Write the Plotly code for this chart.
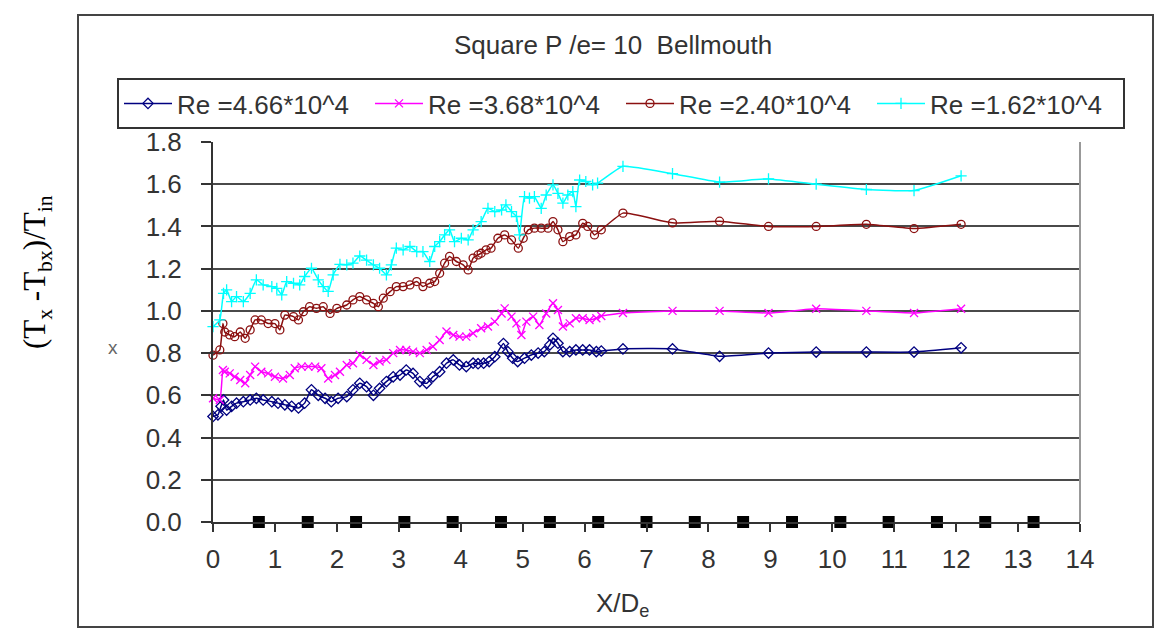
import plotly.graph_objects as go

# ---------------- data ----------------
blue_x = [0.0, 0.08, 0.13, 0.17, 0.22, 0.30, 0.38, 0.49, 0.60, 0.70, 0.81, 0.95, 1.05, 1.16, 1.27, 1.38, 1.48, 1.59, 1.70, 1.81, 1.91, 2.02,
          2.16, 2.26, 2.37, 2.48, 2.59, 2.69, 2.80, 2.91, 3.02, 3.12, 3.23, 3.34, 3.45, 3.55, 3.66, 3.77, 3.88, 3.98, 4.09, 4.20, 4.28,
          4.37, 4.46, 4.55, 4.69, 4.76, 4.84, 4.92, 5.03, 5.14, 5.25, 5.35, 5.44, 5.49, 5.57, 5.65, 5.76, 5.86, 5.97, 6.08, 6.19, 6.27,
          6.62, 7.42, 8.18, 8.97, 9.74, 10.55, 11.32, 12.08]
blue_y = [0.50, 0.508, 0.548, 0.578, 0.53, 0.548, 0.563, 0.57, 0.578, 0.586, 0.578, 0.57, 0.563, 0.555, 0.548, 0.54, 0.563, 0.626, 0.60, 0.586, 0.57, 0.586,
          0.594, 0.626, 0.657, 0.641, 0.60, 0.633, 0.665, 0.688, 0.696, 0.72, 0.704, 0.665, 0.657, 0.688, 0.712, 0.752, 0.768, 0.744, 0.736, 0.752, 0.75,
          0.752, 0.76, 0.783, 0.845, 0.807, 0.776, 0.76, 0.776, 0.791, 0.80, 0.807, 0.839, 0.87, 0.847, 0.807, 0.807, 0.815, 0.815, 0.815, 0.807, 0.81,
          0.82, 0.82, 0.785, 0.80, 0.805, 0.805, 0.805, 0.825]

mag_x = [0.0, 0.11, 0.16, 0.19, 0.27, 0.35, 0.44, 0.52, 0.60, 0.68, 0.78, 0.89, 1.0, 1.13, 1.24, 1.32, 1.43, 1.54, 1.65, 1.75, 1.86, 1.97,
         2.05, 2.16, 2.26, 2.37, 2.48, 2.59, 2.69, 2.80, 2.91, 3.02, 3.12, 3.23, 3.34, 3.45, 3.55, 3.66, 3.77, 3.88, 3.98, 4.09, 4.20,
         4.33, 4.44, 4.55, 4.66, 4.71, 4.82, 4.90, 4.98, 5.06, 5.17, 5.27, 5.38, 5.49, 5.57, 5.65, 5.76, 5.86, 5.97, 6.08, 6.19, 6.27,
         6.62, 7.42, 8.18, 8.97, 9.74, 10.55, 11.32, 12.08]
mag_y = [0.586, 0.578, 0.72, 0.712, 0.704, 0.688, 0.673, 0.657, 0.696, 0.736, 0.712, 0.704, 0.688, 0.68, 0.696, 0.728, 0.736, 0.736, 0.736, 0.728, 0.68, 0.696,
         0.712, 0.744, 0.752, 0.791, 0.768, 0.744, 0.76, 0.768, 0.80, 0.815, 0.815, 0.807, 0.80, 0.815, 0.831, 0.862, 0.902, 0.886, 0.878, 0.878, 0.894,
         0.918, 0.926, 0.949, 0.988, 1.012, 0.973, 0.941, 0.886, 0.949, 0.973, 0.933, 0.988, 1.036, 1.004, 0.926, 0.941, 0.965, 0.965, 0.957, 0.965, 0.976,
         0.99, 1.0, 1.0, 0.99, 1.01, 1.0, 0.99, 1.01]

brown_x = [0.0, 0.11, 0.16, 0.19, 0.27, 0.35, 0.44, 0.52, 0.60, 0.68, 0.78, 0.89, 1.0, 1.08, 1.16, 1.30, 1.38, 1.46, 1.56, 1.67, 1.78, 1.89, 2.0,
           2.16, 2.26, 2.37, 2.48, 2.59, 2.67, 2.75, 2.86, 2.96, 3.07, 3.18, 3.29, 3.39, 3.50, 3.58, 3.66, 3.74, 3.82, 3.93, 4.04, 4.12, 4.20, 4.28,
           4.33, 4.41, 4.49, 4.60, 4.71, 4.82, 4.93, 5.01, 5.09, 5.19, 5.30, 5.41, 5.49, 5.57, 5.65, 5.76, 5.86, 5.97, 6.05, 6.16, 6.27,
           6.62, 7.42, 8.18, 8.97, 9.74, 10.55, 11.32, 12.08]
brown_y = [0.79, 0.815, 0.94, 0.90, 0.886, 0.878, 0.90, 0.87, 0.91, 0.957, 0.957, 0.94, 0.94, 0.91, 0.98, 0.973, 0.957, 0.996, 1.02, 1.012, 1.02, 0.988, 1.012,
           1.028, 1.052, 1.068, 1.052, 1.036, 1.02, 1.06, 1.091, 1.115, 1.115, 1.123, 1.139, 1.115, 1.131, 1.139, 1.178, 1.226, 1.258, 1.234, 1.218, 1.194, 1.25, 1.265,
           1.273, 1.289, 1.297, 1.344, 1.36, 1.336, 1.297, 1.344, 1.384, 1.392, 1.392, 1.392, 1.423, 1.384, 1.328, 1.352, 1.36, 1.415, 1.40, 1.36, 1.384,
           1.463, 1.417, 1.425, 1.40, 1.40, 1.41, 1.39, 1.41]

cyan_x = [0.0, 0.11, 0.17, 0.22, 0.30, 0.38, 0.49, 0.60, 0.70, 0.81, 0.95, 1.03, 1.11, 1.19, 1.30, 1.40, 1.48, 1.59, 1.70, 1.78, 1.86, 1.94, 2.05,
          2.16, 2.26, 2.37, 2.48, 2.59, 2.69, 2.80, 2.88, 2.96, 3.07, 3.18, 3.29, 3.39, 3.50, 3.58, 3.66, 3.74, 3.82, 3.90, 4.01, 4.12, 4.20,
          4.33, 4.44, 4.55, 4.66, 4.73, 4.82, 4.90, 4.95, 5.03, 5.11, 5.19, 5.30, 5.38, 5.49, 5.57, 5.65, 5.73, 5.81, 5.86, 5.92, 6.02, 6.13, 6.21,
          6.62, 7.42, 8.18, 8.97, 9.74, 10.55, 11.32, 12.08]
cyan_y = [0.925, 0.957, 1.083, 1.10, 1.044, 1.068, 1.044, 1.083, 1.147, 1.123, 1.115, 1.107, 1.076, 1.139, 1.131, 1.123, 1.163, 1.202, 1.147, 1.115, 1.092, 1.171, 1.22,
          1.218, 1.226, 1.26, 1.24, 1.218, 1.202, 1.171, 1.218, 1.297, 1.289, 1.305, 1.281, 1.281, 1.234, 1.305, 1.328, 1.36, 1.384, 1.328, 1.344, 1.336, 1.384,
          1.423, 1.486, 1.47, 1.478, 1.502, 1.47, 1.447, 1.36, 1.541, 1.534, 1.541, 1.486, 1.549, 1.597, 1.557, 1.51, 1.549, 1.565, 1.494, 1.62, 1.613, 1.597, 1.605,
          1.685, 1.65, 1.61, 1.625, 1.60, 1.575, 1.57, 1.64]

rib_x = [0.74, 1.53, 2.31, 3.09, 3.87, 4.65, 5.44, 6.22, 7.0, 7.78, 8.56, 9.35, 10.13, 10.91, 11.69, 12.47, 13.25]
rib_y = [0.0] * len(rib_x)

names = ["Re =4.66*10^4", "Re =3.68*10^4", "Re =2.40*10^4", "Re =1.62*10^4"]
x_ticks = list(range(0, 15))
y_ticks = [0.0, 0.2, 0.4, 0.6, 0.8, 1.0, 1.2, 1.4, 1.6, 1.8]

# ---------------- figure ----------------
FONT = "Liberation Sans, Arial, sans-serif"
TXT = "#333333"
FS = 26

fig = go.Figure()

series = [
    (blue_x, blue_y, names[0], "#000080", "diamond-open"),
    (mag_x, mag_y, names[1], "#FF00FF", "x-thin-open"),
    (brown_x, brown_y, names[2], "#8B1010", "circle-open"),
    (cyan_x, cyan_y, names[3], "#00FFFF", "cross-thin-open"),
]
for xs, ys, nm, col, sym in series:
    fig.add_trace(go.Scatter(
        x=xs, y=ys, name=nm, mode="lines+markers",
        line=dict(color=col, width=1.5, shape="spline", smoothing=0.4),
        marker=dict(symbol=sym, size=8, color=col, line=dict(color=col, width=1.3)),
        cliponaxis=False,
    ))

fig.add_trace(go.Scatter(
    x=rib_x, y=rib_y, mode="markers", showlegend=False,
    marker=dict(symbol="square", size=12, color="black"),
    cliponaxis=False,
))

W, H = 1158, 631
L, R, T, B = 213, 78, 142, 109
pw, ph = W - L - R, H - T - B

def px(xp):
    return (xp - L) / pw

def py(yp):
    return (H - B - yp) / ph

fig.update_layout(
    width=W, height=H,
    margin=dict(l=L, r=R, t=T, b=B),
    paper_bgcolor="white", plot_bgcolor="white",
    font=dict(family=FONT, size=FS, color=TXT),
    showlegend=True,
    legend=dict(
        orientation="h", x=px(117), y=py(78), xanchor="left", yanchor="top",
        bordercolor="#333333", borderwidth=2, bgcolor="white",
        font=dict(family=FONT, size=FS, color=TXT),
        itemwidth=48, entrywidth=188, entrywidthmode="pixels",
        tracegroupgap=0,
    ),
    xaxis=dict(
        range=[0, 14], tickvals=x_ticks, ticktext=[str(v) for v in x_ticks],
        showgrid=False, zeroline=False,
        showline=True, linecolor="#333333", linewidth=2,
        ticks="outside", ticklen=8, tickwidth=1.5, tickcolor="#333333",
        tickfont=dict(family=FONT, size=FS, color=TXT),
        ticklabelstandoff=5,
    ),
    yaxis=dict(
        range=[0, 1.8], tickvals=y_ticks, ticktext=["%.1f" % v for v in y_ticks],
        showgrid=True, gridcolor="#4a4a4a", gridwidth=2,
        zeroline=False,
        showline=True, linecolor="#333333", linewidth=2,
        ticks="outside", ticklen=10, tickwidth=1.5, tickcolor="#333333",
        tickfont=dict(family=FONT, size=FS, color=TXT),
        ticklabelstandoff=14,
    ),
    shapes=[
        # outer chart frame
        dict(type="rect", xref="paper", yref="paper",
             x0=px(78), x1=px(1153), y0=py(627), y1=py(15),
             line=dict(color="#444444", width=2), layer="below"),
        # right border of plot area
        dict(type="line", xref="paper", yref="paper",
             x0=1, x1=1, y0=0, y1=1, line=dict(color="#999999", width=2)),
    ],
    annotations=[
        dict(text="Square P /e= 10  Bellmouth", xref="paper", yref="paper",
             x=px(613), y=py(45), xanchor="center", yanchor="middle",
             showarrow=False, font=dict(family=FONT, size=FS, color=TXT)),
        dict(text="X/D<sub>e</sub>", xref="paper", yref="paper",
             x=px(622), y=py(604), xanchor="center", yanchor="middle",
             showarrow=False, font=dict(family=FONT, size=FS, color=TXT)),
        dict(text="(T<sub>x</sub> -T<sub>bx</sub>)/T<sub>in</sub>", xref="paper", yref="paper",
             x=px(37), y=py(272), xanchor="center", yanchor="middle", textangle=-90,
             showarrow=False, font=dict(family="Liberation Serif, Times New Roman, serif", size=31, color="black")),
        dict(text="x", xref="paper", yref="paper",
             x=px(113), y=py(347), xanchor="center", yanchor="middle",
             showarrow=False, font=dict(family=FONT, size=19, color="#666666")),
    ],
)

fig.write_html("out.html")
